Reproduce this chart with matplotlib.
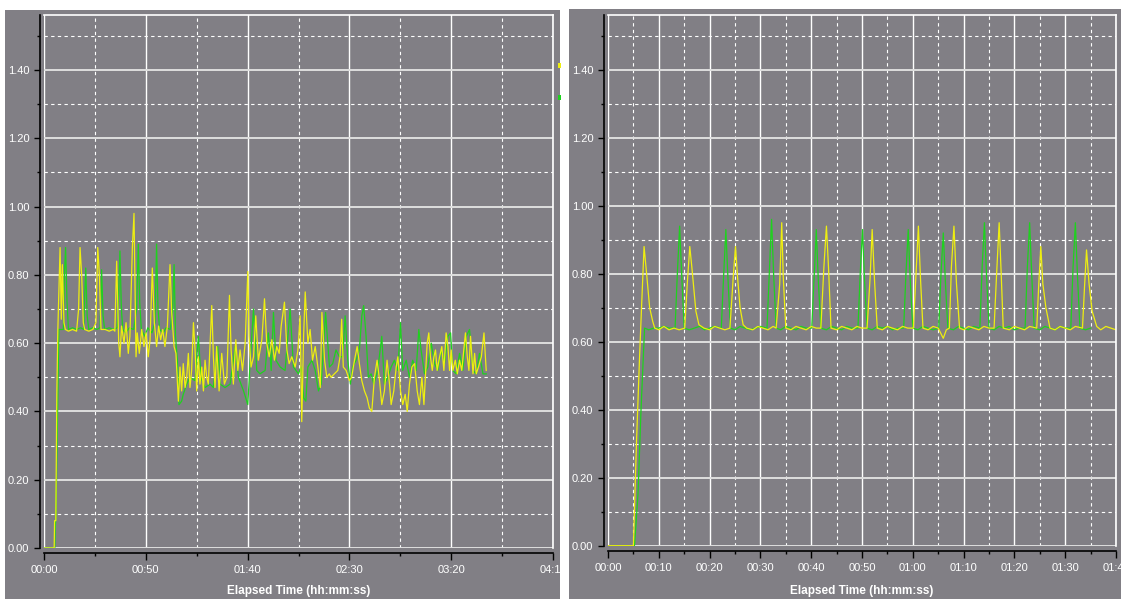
import matplotlib
matplotlib.use('Agg')
import matplotlib.pyplot as plt
from matplotlib.patches import Rectangle
from matplotlib.ticker import MultipleLocator, FuncFormatter
from matplotlib.transforms import Bbox, TransformedBbox

plt.rcParams['font.family'] = ['Liberation Sans', 'DejaVu Sans']

W, H = 1121, 599
PANEL = '#817f85'
YELLOW = '#eeee10'
GREEN = '#1ed21e'

# ---- left run (0 - 04:10) ----
left_yellow_t = [0, 5.0, 5.2, 5.8, 6.3, 6.8, 7.9, 8.5, 9.0, 9.8, 10.5, 12, 14, 16, 17, 17.7, 18.5, 19.3,
                 20, 22, 24, 25.5, 26.4, 27.2, 28, 30, 32, 34, 34.8, 35.7, 36.7, 37.3, 38.1, 39.3,
                 40.3, 41.4, 42.2, 43.4, 44.2, 45.2, 45.8, 46.8, 48, 49.1, 50.1, 51.2, 52.1, 53.2,
                 54.2, 55.3, 56.3, 57.3, 58.3, 59.4, 60.6, 61.9, 62.7, 63.9, 64.8, 66.0, 66.8, 67.6,
                 68.4, 69.3, 70.1, 70.9, 71.7, 72.5, 73.4, 74.2, 75.0, 75.8, 76.6, 77.5, 78.3, 79.1,
                 79.9, 80.7, 82.4, 83.2, 84.0, 84.8, 86.0, 87.3, 88.6, 89.8, 91.1, 91.9, 93.0, 94.2,
                 95.2, 96.3, 97.5, 98.8, 100.1, 100.7, 101.7, 102.9, 104.0, 105.3, 107.0, 108.3,
                 109.4, 110.6, 111.9, 113.2, 114.3, 115.5, 116.5, 118.1, 119.3, 120.4, 121.7, 123.4,
                 124.7, 125.8, 126.6, 127.5, 128.3, 129.6, 130.7, 131.9, 133.2, 134.5, 135.7, 136.5,
                 137.8, 138.9, 140.1, 141.0, 142.6, 144.3, 145.4, 146.2, 147.0, 148.4, 150.0, 151.1,
                 152.5, 153.8, 154.9, 156.1, 157.4, 158.7, 159.8, 161.0, 162.3, 163.6, 164.8, 165.9,
                 167.2, 168.5, 169.7, 170.5, 171.8, 173.0, 173.8, 175.1, 176.2, 177.4, 178.4, 179.5,
                 180.7, 182.0, 183.3, 184.4, 185.6, 186.6, 187.4, 188.2, 189.0, 189.8, 190.7, 191.5,
                 192.3, 193.1, 194.3, 195.4, 196.4, 197.5, 198.4, 199.2, 200.0, 200.8, 202.0, 203.0,
                 204.1, 205.2, 206.2, 207.0, 207.9, 208.7, 209.5, 210.7, 211.5, 212.3, 213.4, 214.8,
                 216.1, 217.2]
left_yellow_v = [0, 0, 0.08, 0.08, 0.45, 0.64, 0.88, 0.67, 0.83, 0.66, 0.64, 0.635, 0.64, 0.635, 0.70,
                 0.88, 0.80, 0.66, 0.64, 0.635, 0.64, 0.66, 0.88, 0.80, 0.64, 0.64, 0.635, 0.64, 0.635,
                 0.84, 0.60, 0.56, 0.65, 0.60, 0.66, 0.57, 0.62, 0.88, 0.98, 0.56, 0.63, 0.57, 0.64,
                 0.59, 0.63, 0.56, 0.61, 0.82, 0.66, 0.59, 0.65, 0.61, 0.64, 0.59, 0.65, 0.83, 0.69,
                 0.59, 0.57, 0.43, 0.53, 0.46, 0.54, 0.47, 0.50, 0.57, 0.47, 0.52, 0.66, 0.58, 0.46,
                 0.56, 0.48, 0.53, 0.46, 0.55, 0.50, 0.48, 0.71, 0.56, 0.47, 0.59, 0.46, 0.57, 0.48,
                 0.50, 0.74, 0.58, 0.48, 0.61, 0.52, 0.58, 0.52, 0.60, 0.81, 0.62, 0.53, 0.56, 0.68,
                 0.55, 0.61, 0.73, 0.60, 0.56, 0.61, 0.55, 0.59, 0.57, 0.65, 0.72, 0.58, 0.54, 0.56,
                 0.53, 0.58, 0.68, 0.37, 0.62, 0.75, 0.60, 0.64, 0.55, 0.59, 0.53, 0.47, 0.69, 0.55,
                 0.50, 0.51, 0.50, 0.51, 0.52, 0.56, 0.67, 0.53, 0.52, 0.49, 0.50, 0.55, 0.59, 0.54,
                 0.49, 0.46, 0.44, 0.41, 0.40, 0.50, 0.55, 0.49, 0.42, 0.46, 0.55, 0.48, 0.42, 0.46,
                 0.53, 0.56, 0.46, 0.42, 0.45, 0.40, 0.48, 0.53, 0.54, 0.46, 0.42, 0.50, 0.42, 0.51,
                 0.60, 0.63, 0.56, 0.52, 0.56, 0.58, 0.52, 0.56, 0.59, 0.52, 0.63, 0.59, 0.52, 0.58,
                 0.52, 0.55, 0.51, 0.55, 0.52, 0.58, 0.63, 0.56, 0.52, 0.62, 0.51, 0.57, 0.51, 0.53,
                 0.56, 0.63, 0.52]

left_green_t = [0, 5.3, 5.5, 5.9, 6.3, 6.8, 7.3, 8, 9.5, 10.0, 10.6, 11.3, 12, 14, 16, 18, 19.5, 20,
                20.5, 21.2, 22, 24, 26, 27.5, 28.3, 29, 29.8, 32, 34, 36, 36.7, 37.3, 38, 38.7, 40,
                42, 44, 45.5, 46.3, 47, 47.8, 49.5, 51, 53, 54.5, 55.3, 56, 56.8, 58.5, 60, 62, 63.2,
                63.9, 64.6, 65.5, 66.3, 67.6, 68.4, 70.1, 71.7, 74.2, 75.8, 77.1, 79.1, 81.6, 83.2,
                85.3, 86.5, 88.9, 91.4, 93.9, 95.5, 98.0, 100.1, 101.2, 102.9, 104.5, 106.1, 108.6,
                110.2, 111.6, 112.7, 113.9, 116.0, 118.4, 120.9, 122.5, 125.0, 126.3, 127.5, 128.6,
                129.6, 131.6, 133.2, 134.8, 136.1, 138.3, 140.2, 141.8, 143.4, 145.1, 146.7, 147.9,
                149.2, 150.5, 151.6, 153.3, 154.9, 156.1, 157.0, 158.2, 159.3, 160.7, 162.0, 163.9,
                165.9, 167.2, 168.9, 170.5, 172.1, 173.8, 175.1, 176.2, 177.9, 179.5, 181.1, 182.8,
                184.1, 185.2, 186.9, 188.5, 190.2, 191.8, 193.4, 195.1, 196.7, 198.4, 199.7, 200.8,
                202.5, 204.1, 205.7, 207.4, 209.0, 210.7, 212.3, 213.9, 215.6, 217.2]
left_green_v = [0, 0, 0.06, 0.10, 0.25, 0.42, 0.64, 0.64, 0.64, 0.80, 0.88, 0.72, 0.64, 0.645, 0.64,
                0.645, 0.64, 0.74, 0.82, 0.68, 0.64, 0.645, 0.64, 0.645, 0.815, 0.68, 0.64, 0.645,
                0.64, 0.645, 0.75, 0.87, 0.70, 0.64, 0.63, 0.645, 0.64, 0.70, 0.89, 0.72, 0.64, 0.62,
                0.645, 0.63, 0.66, 0.89, 0.70, 0.64, 0.63, 0.645, 0.64, 0.70, 0.83, 0.62, 0.55, 0.42,
                0.43, 0.45, 0.48, 0.50, 0.49, 0.62, 0.50, 0.47, 0.48, 0.47, 0.59, 0.48, 0.47, 0.48,
                0.59, 0.50, 0.46, 0.42, 0.54, 0.70, 0.52, 0.51, 0.52, 0.63, 0.52, 0.69, 0.55, 0.53,
                0.52, 0.70, 0.53, 0.51, 0.53, 0.44, 0.43, 0.53, 0.55, 0.52, 0.46, 0.48, 0.69, 0.53,
                0.54, 0.58, 0.56, 0.56, 0.68, 0.55, 0.48, 0.53, 0.55, 0.58, 0.68, 0.71, 0.62, 0.50,
                0.51, 0.48, 0.52, 0.62, 0.48, 0.50, 0.53, 0.55, 0.52, 0.66, 0.52, 0.55, 0.50, 0.55,
                0.52, 0.64, 0.58, 0.51, 0.53, 0.60, 0.54, 0.52, 0.58, 0.54, 0.62, 0.63, 0.52, 0.51,
                0.57, 0.52, 0.62, 0.64, 0.52, 0.51, 0.57, 0.51, 0.51]

# ---- right run (0 - 01:40) ----
right_yellow_t = [0, 5.0, 5.6, 6.2, 6.6, 7.1, 7.6, 8.2, 8.8, 9.2, 10, 11, 12, 13, 14, 15.1, 15.6, 16.1,
                  16.5, 17.3, 17.9, 18.9, 20, 21, 22, 23, 24, 24.7, 25.1, 25.5, 26, 26.6, 27.3, 28.5,
                  29.5, 30.5, 31.5, 32.5, 33.1, 33.8, 34.2, 34.5, 35, 36, 37, 38, 39, 40, 41, 41.9,
                  42.5, 43, 43.4, 43.9, 45, 46, 47, 48, 49, 50, 51, 51.6, 52, 52.5, 53, 54, 55, 56,
                  57, 58, 59, 60.1, 60.6, 61.1, 61.5, 62, 63, 64, 65, 66, 66.6, 67.2, 67.6, 68.1,
                  68.6, 69.2, 70, 71, 72, 73, 74, 75, 76, 76.5, 77, 77.4, 77.8, 79, 80, 81, 82, 83,
                  84.4, 84.8, 85.2, 85.6, 86.2, 87, 88, 89, 90, 91, 92, 93.4, 93.8, 94.2, 94.7, 95.3,
                  96.2, 97, 98, 99, 100]
right_yellow_v = [0, 0, 0.30, 0.55, 0.70, 0.88, 0.80, 0.70, 0.66, 0.64, 0.635, 0.645, 0.635, 0.64,
                  0.635, 0.64, 0.77, 0.88, 0.82, 0.69, 0.65, 0.64, 0.635, 0.645, 0.64, 0.635, 0.64,
                  0.80, 0.88, 0.79, 0.70, 0.65, 0.64, 0.635, 0.645, 0.64, 0.635, 0.645, 0.64, 0.77,
                  0.95, 0.79, 0.64, 0.635, 0.645, 0.64, 0.635, 0.645, 0.64, 0.64, 0.82, 0.94, 0.82,
                  0.64, 0.635, 0.645, 0.64, 0.635, 0.645, 0.64, 0.64, 0.79, 0.93, 0.77, 0.64, 0.635,
                  0.645, 0.64, 0.635, 0.645, 0.64, 0.64, 0.79, 0.94, 0.79, 0.64, 0.635, 0.645, 0.64,
                  0.61, 0.635, 0.64, 0.82, 0.94, 0.77, 0.64, 0.635, 0.645, 0.64, 0.635, 0.645, 0.64,
                  0.64, 0.80, 0.95, 0.80, 0.64, 0.635, 0.645, 0.64, 0.635, 0.645, 0.64, 0.77, 0.88,
                  0.77, 0.70, 0.64, 0.635, 0.645, 0.64, 0.635, 0.645, 0.64, 0.76, 0.87, 0.77, 0.69,
                  0.645, 0.635, 0.645, 0.64, 0.635]

right_green_t = [0, 5.2, 5.4, 5.9, 6.5, 7.2, 8, 9, 10, 11, 12,
                 13.2, 13.65, 14.1, 14.5, 15.0, 16, 17, 18, 19, 20, 21,
                 22.3, 22.75, 23.2, 23.6, 24.1, 25, 26, 27, 28, 29, 30,
                 31.3, 31.75, 32.2, 32.6, 33.1, 34, 35, 36, 37, 38, 39,
                 40.1, 40.55, 41, 41.4, 41.9, 43, 44, 45, 46, 47, 48,
                 49.2, 49.65, 50.1, 50.5, 51.0, 52, 53, 54, 55, 56, 57,
                 58.2, 58.65, 59.1, 59.5, 60.0, 61, 62, 63, 64,
                 65.1, 65.55, 66, 66.4, 66.9, 68, 69, 70, 71, 72,
                 73.2, 73.65, 74.1, 74.5, 75.0, 76, 77, 78, 79, 80, 81,
                 82.1, 82.55, 83, 83.4, 83.9, 85, 86, 87, 88, 89, 90,
                 91.1, 91.55, 92, 92.4, 92.9, 94, 95]
right_green_v = [0, 0, 0.04, 0.15, 0.40, 0.64, 0.635, 0.64, 0.64, 0.645, 0.64,
                 0.64, 0.80, 0.94, 0.80, 0.64, 0.635, 0.64, 0.645, 0.635, 0.64, 0.645,
                 0.64, 0.79, 0.93, 0.79, 0.64, 0.635, 0.645, 0.64, 0.635, 0.64, 0.645,
                 0.64, 0.80, 0.96, 0.80, 0.64, 0.635, 0.645, 0.64, 0.635, 0.645, 0.64,
                 0.64, 0.78, 0.93, 0.78, 0.64, 0.635, 0.645, 0.64, 0.635, 0.645, 0.64,
                 0.64, 0.80, 0.93, 0.78, 0.64, 0.635, 0.645, 0.64, 0.645, 0.635, 0.64,
                 0.64, 0.80, 0.93, 0.78, 0.64, 0.635, 0.645, 0.64, 0.635,
                 0.64, 0.80, 0.92, 0.78, 0.64, 0.635, 0.645, 0.64, 0.635, 0.645,
                 0.64, 0.82, 0.95, 0.80, 0.64, 0.635, 0.645, 0.64, 0.645, 0.635, 0.64,
                 0.64, 0.82, 0.95, 0.80, 0.64, 0.635, 0.645, 0.64, 0.635, 0.645, 0.64,
                 0.64, 0.82, 0.95, 0.80, 0.64, 0.635, 0.64]

XLABEL = 'Elapsed Time (hh:mm:ss)'


def px_rect(x0, y0, x1, y1):
    # pixel box (top-left origin) -> figure fraction [left, bottom, width, height]
    return [x0 / W, (H - y1) / H, (x1 - x0) / W, (y1 - y0) / H]


def fmt_time(t, pos):
    m, s = divmod(int(round(t)), 60)
    return '{:02d}:{:02d}'.format(m, s)


def setup_axes(ax, xmax, xstep):
    ax.set_facecolor(PANEL)
    ax.set_xlim(0, xmax)
    ax.set_ylim(0, 1.561)
    ax.xaxis.set_major_locator(MultipleLocator(xstep))
    ax.xaxis.set_minor_locator(MultipleLocator(xstep / 2))
    ax.yaxis.set_major_locator(MultipleLocator(0.2))
    ax.yaxis.set_minor_locator(MultipleLocator(0.1))
    ax.xaxis.set_major_formatter(FuncFormatter(fmt_time))
    ax.yaxis.set_major_formatter(FuncFormatter(lambda v, p: '{:.2f}'.format(v)))

    ax.grid(which='major', axis='x', color='white', lw=1.0)
    ax.grid(which='major', axis='y', color='#dedede', lw=1.4)
    ax.grid(which='minor', axis='both', color='white', lw=0.8, ls=(0, (3, 3)))
    ax.set_axisbelow(True)

    for side in ['top', 'right']:
        ax.spines[side].set_color('white')
        ax.spines[side].set_linewidth(1.2)
    ax.spines['left'].set_position(('outward', 3))
    ax.spines['bottom'].set_position(('outward', 3.6))
    for side in ['left', 'bottom']:
        ax.spines[side].set_color('black')
        ax.spines[side].set_linewidth(1.2)

    ax.tick_params(which='both', colors='black', labelcolor='white', labelsize=8, width=1)
    ax.tick_params(axis='y', which='major', length=4.5, pad=3)
    ax.tick_params(axis='y', which='minor', length=2.2)
    ax.tick_params(axis='x', which='major', length=5, pad=3.5)
    ax.tick_params(axis='x', which='minor', length=2.5)


fig = plt.figure(figsize=(W / 100, H / 100), dpi=100, facecolor='white')

# the two grey windows, behind the axes
fig.patches.append(Rectangle((5 / W, 0), 555 / W, 589 / H, transform=fig.transFigure,
                             facecolor=PANEL, edgecolor='none', zorder=-5))
fig.patches.append(Rectangle((569 / W, 0), 552 / W, 590 / H, transform=fig.transFigure,
                             facecolor=PANEL, edgecolor='none', zorder=-5))

ax1 = fig.add_axes(px_rect(44, 15, 553, 548))
setup_axes(ax1, 250, 50)
ax1.plot(left_green_t, left_green_v, color=GREEN, lw=0.9)
ax1.plot(left_yellow_t, left_yellow_v, color=YELLOW, lw=0.9)

ax2 = fig.add_axes(px_rect(608, 15, 1116, 545.7))
setup_axes(ax2, 100, 10)
ax2.plot(right_green_t, right_green_v, color=GREEN, lw=0.9)
ax2.plot(right_yellow_t, right_yellow_v, color=YELLOW, lw=0.9)

fig.text((44 + 553) / 2 / W, (H - 591) / H, XLABEL, ha='center', va='center',
         color='white', fontsize=8.5, fontweight='bold')
fig.text((608 + 1116) / 2 / W, (H - 591) / H, XLABEL, ha='center', va='center',
         color='white', fontsize=8.5, fontweight='bold')

# little value markers at the right edge of the left window
fig.patches.append(Rectangle((557.5 / W, (H - 68) / H), 3 / W, 5 / H, transform=fig.transFigure,
                             facecolor=YELLOW, edgecolor='none'))
fig.patches.append(Rectangle((557.5 / W, (H - 100) / H), 3 / W, 5 / H, transform=fig.transFigure,
                             facecolor=GREEN, edgecolor='none'))

# tick labels of the left window get cut at its edge (the "04:1" label)
fig.canvas.draw()
clip = TransformedBbox(Bbox.from_bounds(5 / W, 0, 555 / W, 589 / H), fig.transFigure)
for tick in ax1.xaxis.get_major_ticks():
    tick.label1.set_clip_box(clip)
    tick.label1.set_clip_on(True)

fig.savefig('out.png', dpi=100, facecolor='white')
